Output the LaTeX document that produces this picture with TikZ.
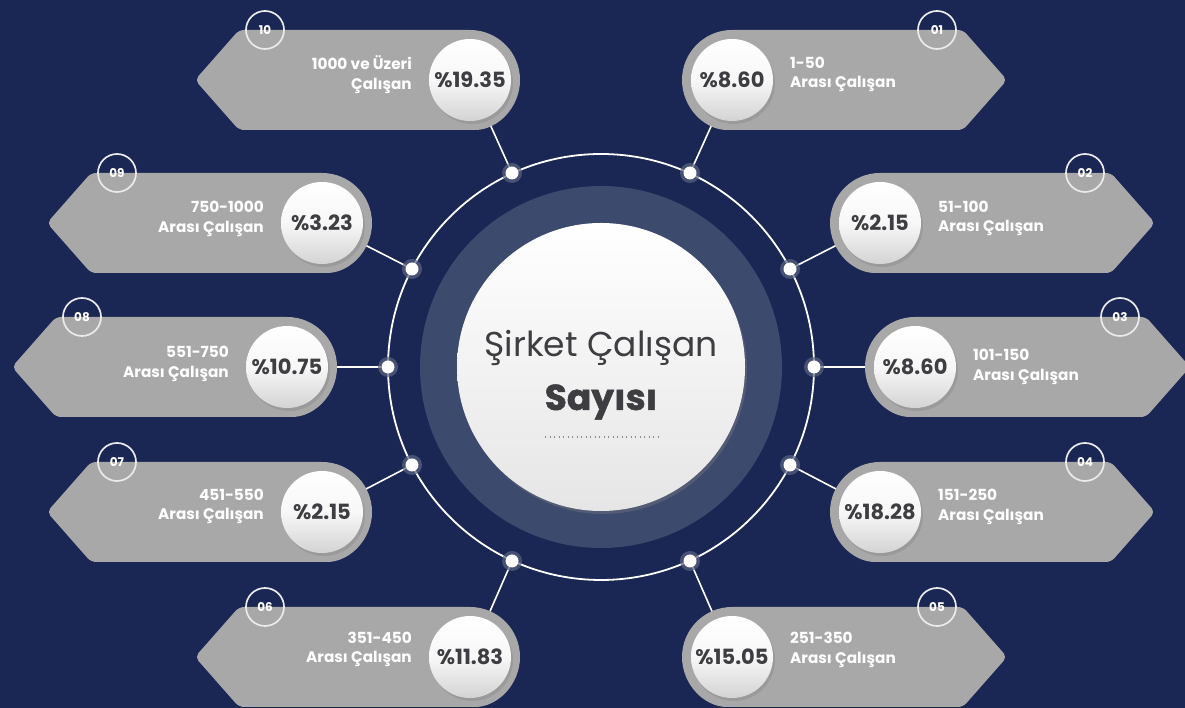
\documentclass[tikz,border=0pt]{standalone}
\usepackage{fontspec}
\setmainfont{Poppins}
\newfontfamily\heavyfont{Poppins}[BoldFeatures={FakeBold=1.3}]
\usetikzlibrary{calc,shadows}
\definecolor{bgnavy}{RGB}{26,38,83}
\definecolor{midring}{RGB}{60,74,110}
\definecolor{tagfill}{RGB}{168,168,168}
\definecolor{darktext}{RGB}{62,62,66}
\definecolor{halo}{RGB}{90,100,130}
\pgfdeclarelayer{bglayer}
\pgfdeclarelayer{connlayer}
\pgfdeclarelayer{taglayer}
\pgfsetlayers{bglayer,connlayer,taglayer,main}
\tikzset{
  badge/.style={circle, minimum size=82pt, inner sep=0pt, top color=white, bottom color=black!17, middle color=white!97!black,
    drop shadow={opacity=0.35, shadow xshift=2pt, shadow yshift=-3pt},
    font=\bfseries\fontsize{21}{21}\selectfont, text=darktext},
  numcirc/.style={circle, draw=white!92!black, line width=1.7pt, minimum size=38pt, inner sep=0pt, text=white,
    font=\bfseries\fontsize{12}{12}\selectfont},
  tagtext/.style={inner sep=0pt, text=white, font=\bfseries\fontsize{15.3}{19.5}\selectfont},
  ringdot/.style={circle, fill=white, minimum size=13pt, inner sep=0pt},
  conn/.style={draw=white, line width=1.6pt},
}
% #1 label, #2 bx, #3 by, #4 direction, #5 percent, #6 line1, #7 line2, #8 text dy, #9 ring dot name
\newcommand\tagbox[9]{%
  \begin{pgfonlayer}{taglayer}
    \fill[tagfill, rounded corners=5pt] (#2,#3+50) -- ({#2+(#4)*231},#3+50) -- ({#2+(#4)*275},#3) -- ({#2+(#4)*231},#3-50) -- (#2,#3-50) arc[start angle=270, end angle={270-180*(#4)}, radius=50pt];
  \end{pgfonlayer}
  \node[badge] (b#1) at (#2,#3) {\%#5};
  \node[numcirc] (n#1) at ({#2+(#4)*205},#3+50) {#1};
  \ifnum#4>0
    \node[tagtext, anchor=west, align=left] (t#1) at ({#2+(#4)*58},#3+#8) {#6\\#7};
  \else
    \node[tagtext, anchor=east, align=right] (t#1) at ({#2+(#4)*58},#3+#8) {#6\\#7};
  \fi
  \begin{pgfonlayer}{connlayer}
    \draw[conn] (#9) -- (b#1);
  \end{pgfonlayer}
}
\begin{document}
\begin{tikzpicture}[x=1pt,y=1pt]
\begin{pgfonlayer}{bglayer}
  \fill[bgnavy] (0,0) rectangle (1185,708);
  \fill[midring] (601,341) circle (181);
  \draw[white, line width=1.8pt] (601,341) circle (213);
\end{pgfonlayer}
\useasboundingbox (0,0) rectangle (1185,708);
\node[circle, minimum size=288pt, inner sep=0pt, top color=white, bottom color=black!10,
  drop shadow={opacity=0.35, shadow xshift=2pt, shadow yshift=-3pt}] (core) at (601,341) {};
\node[anchor=base, text=darktext, font=\fontsize{34.5}{34.5}\selectfont, inner sep=0pt] (title1) at (601,351) {Şirket Çalışan};
\node[anchor=base, text=darktext, font=\heavyfont\bfseries\fontsize{36}{36}\selectfont, inner sep=0pt] (title2) at (601,298) {Sayısı};
\draw[black!45, line width=1.2pt, dash pattern=on 1.2pt off 3.3pt] (545,271) -- (661,271);
% ring dots
\foreach \nm/\px/\py in {d01/690/535, d02/790/439, d03/814/341, d04/790/243, d05/690/147,
                         d10/512/535, d09/412/439, d08/388/341, d07/412/243, d06/512/147}{
  \fill[halo, opacity=0.7] (\px,\py) circle (10);
  \node[ringdot] (\nm) at (\px,\py) {};
}
\tagbox{01}{732}{628}{1}{8.60}{1-50}{Arası Çalışan}{5.5}{d01}
\tagbox{02}{880}{485}{1}{2.15}{51-100}{Arası Çalışan}{4.5}{d02}
\tagbox{03}{915}{341}{1}{8.60}{101-150}{Arası Çalışan}{0}{d03}
\tagbox{04}{880}{196}{1}{18.28}{151-250}{Arası Çalışan}{5}{d04}
\tagbox{05}{732}{51}{1}{15.05}{251-350}{Arası Çalışan}{7}{d05}
\tagbox{06}{470}{51}{-1}{11.83}{351-450}{Arası Çalışan}{7.5}{d06}
\tagbox{07}{322}{196}{-1}{2.15}{451-550}{Arası Çalışan}{5.5}{d07}
\tagbox{08}{287}{341}{-1}{10.75}{551-750}{Arası Çalışan}{3}{d08}
\tagbox{09}{322}{485}{-1}{3.23}{750-1000}{Arası Çalışan}{4}{d09}
\tagbox{10}{470}{628}{-1}{19.35}{1000 ve Üzeri}{Çalışan}{5.5}{d10}
\end{tikzpicture}
\end{document}
